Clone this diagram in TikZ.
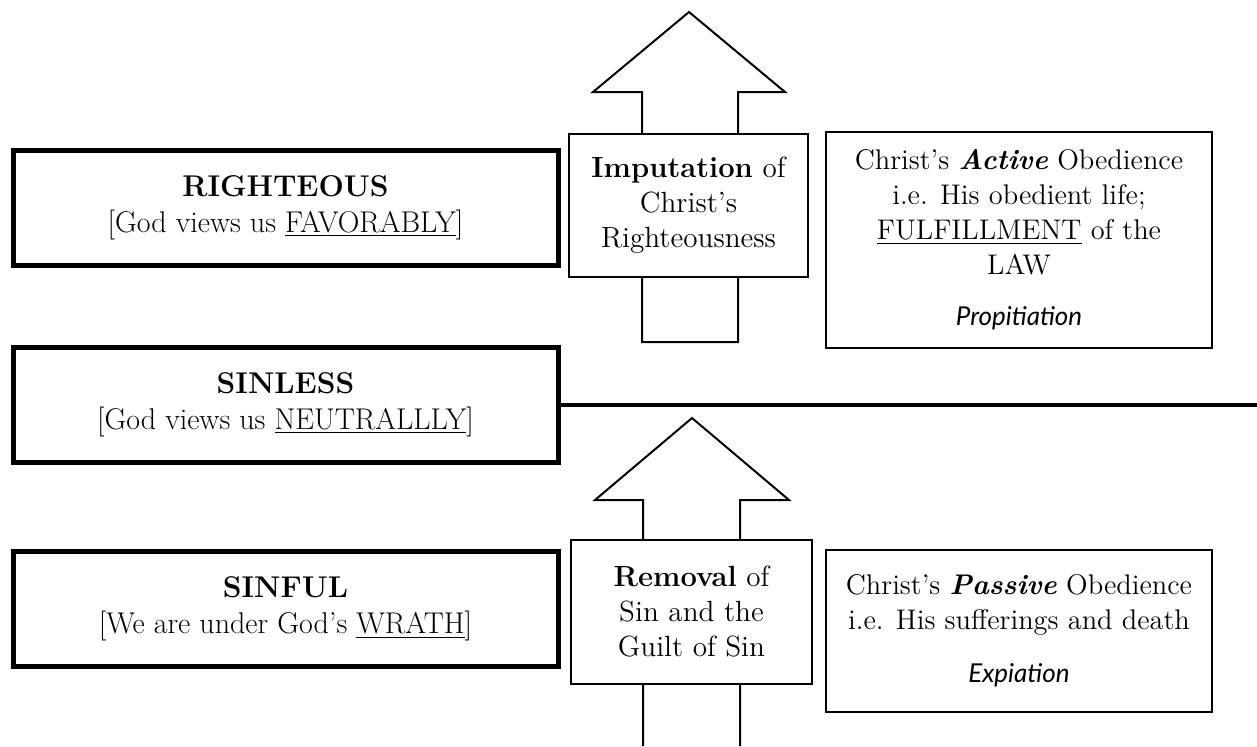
\documentclass[tikz,border=0pt]{standalone}
\usepackage{fontspec}
\newfontfamily\handfont{Lato}
\usepackage{tikz}
\usetikzlibrary{arrows.meta}
\newcommand{\hand}[1]{{\handfont\itshape\fontsize{13}{16}\selectfont #1}}
\newcommand{\bi}[1]{\textbf{\textit{#1}}}

\begin{document}
\begin{tikzpicture}[x=0.5pt,y=-0.5pt,
  statebox/.style={draw,line width=2.5pt,minimum width=272.5pt,minimum height=57.5pt,align=center,inner sep=0pt,font=\fontsize{15}{18}\selectfont},
  workbox/.style={draw,fill=white,line width=1pt,align=center,inner sep=0pt,font=\fontsize{14.6}{17.5}\selectfont},
  notebox/.style={draw,fill=white,line width=1.2pt,align=center,inner sep=0pt,minimum width=193pt,font=\fontsize{14.2}{17.5}\selectfont},
  blockarrow/.style={draw,fill=white,line width=1pt,line join=miter}]
\useasboundingbox (0,0) rectangle (1257,746);
\node[statebox] (righteous) at (285.5,207.5) {\textbf{RIGHTEOUS}\\ {[}God views us \underline{FAVORABLY}{]}};
\node[statebox] (sinless) at (285.5,404.5) {\textbf{SINLESS}\\ {[}God views us \underline{NEUTRALLLY}{]}};
\node[statebox] (sinful) at (285.5,609) {\textbf{SINFUL}\\ {[}We are under God's \underline{WRATH}{]}};
\draw[line width=2pt] (sinless.east) -- (sinless.east -| 1257,0);
\draw[blockarrow] (642,342) -- (642,92) -- (593,92) -- (689,12) -- (785,92) -- (738,92) -- (738,342) -- cycle;
\draw[blockarrow] (643,746) -- (643,500) -- (595,500) -- (692,418) -- (789,500) -- (740,500) -- (740,746);
\node[workbox,minimum width=119.5pt,minimum height=71.5pt] (imputation) at (688.5,205.5) {\textbf{Imputation} of\\ Christ's\\ Righteousness};
\node[workbox,minimum width=120.5pt,minimum height=72pt] (removal) at (691.5,612) {\textbf{Removal} of\\ Sin and the\\ Guilt of Sin};
\node[notebox,minimum height=108pt] (active) at (1019,240) {Christ's \bi{Active} Obedience\\ i.e. His obedient life;\\ \underline{FULFILLMENT} of the\\ LAW\\[8pt] \hand{Propitiation}};
\node[notebox,minimum height=81pt] (passive) at (1019,631) {Christ's \bi{Passive} Obedience\\ i.e. His sufferings and death\\[9pt] \hand{Expiation}};
\end{tikzpicture}
\end{document}
